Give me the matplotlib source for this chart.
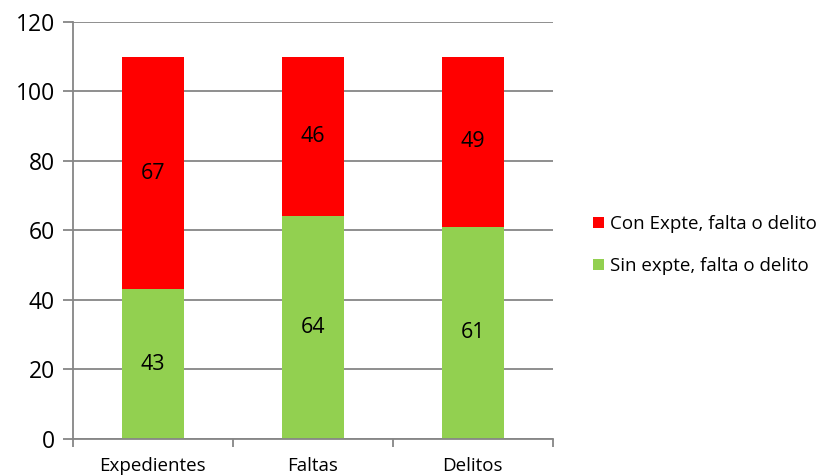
import numpy as np
import matplotlib.pyplot as plt

# Datos
categorias = ['Expedientes', 'Faltas', 'Delitos']
sin_expte = [43, 64, 61]
con_expte = [67, 46, 49]

plt.rcParams['font.family'] = ['Open Sans', 'DejaVu Sans']

rojo = '#FF0000'
verde = '#92D050'
gris = '#868686'

fig = plt.figure(figsize=(8.2, 4.75), dpi=100)
ax = fig.add_axes([0.089, 0.076, 0.585, 0.878])

x = np.arange(len(categorias))
ancho = 0.39

b_sin = ax.bar(x, sin_expte, ancho, color=verde, zorder=3,
               label='Sin expte, falta o delito')
b_con = ax.bar(x, con_expte, ancho, bottom=sin_expte, color=rojo, zorder=3,
               label='Con Expte, falta o delito')

# Etiquetas de valor centradas en cada segmento
for i in range(len(categorias)):
    ax.text(x[i], sin_expte[i] / 2, str(sin_expte[i]), ha='center', va='center',
            fontsize=15.5, color='black', zorder=4)
    ax.text(x[i], sin_expte[i] + con_expte[i] / 2, str(con_expte[i]),
            ha='center', va='center', fontsize=15.5, color='black', zorder=4)

ax.set_ylim(0, 120)
ax.set_yticks(np.arange(0, 121, 20))
ax.yaxis.grid(True, color=gris, linewidth=1.3, zorder=0)
ax.tick_params(axis='y', length=7, width=1.3, color=gris, labelsize=16.5, pad=6)

ax.set_xlim(-0.5, 2.5)
ax.set_xticks([-0.5, 0.5, 1.5, 2.5])
ax.set_xticklabels([])
ax.set_xticks(x, minor=True)
ax.set_xticklabels(categorias, minor=True)
ax.tick_params(axis='x', which='major', length=6, width=1.3, color=gris)
ax.tick_params(axis='x', which='minor', length=0, labelsize=13.5, pad=13)

for lado in ['top', 'right']:
    ax.spines[lado].set_visible(False)
for lado in ['left', 'bottom']:
    ax.spines[lado].set_color(gris)
    ax.spines[lado].set_linewidth(1.3)
    ax.spines[lado].set_zorder(5)

ax.legend(handles=[b_con, b_sin], loc='center left',
          bbox_to_anchor=(0.712, 0.484), bbox_transform=fig.transFigure,
          frameon=False, fontsize=13.5, handlelength=0.55, handleheight=0.55,
          handletextpad=0.35, labelspacing=1.25, borderpad=0)

fig.savefig('out.png', dpi=100)
